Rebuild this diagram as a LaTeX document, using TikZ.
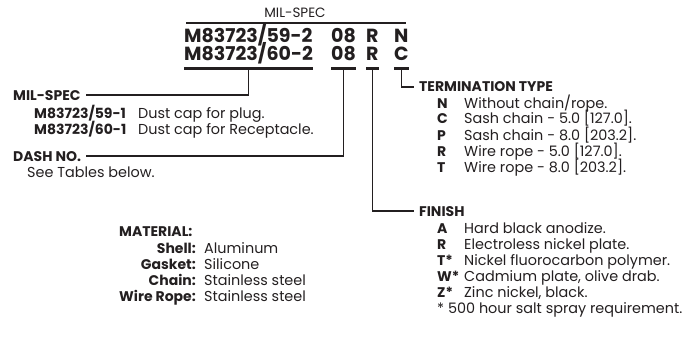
\documentclass[tikz,border=0pt]{standalone}
\usepackage{fontspec}
\setmainfont{Poppins}
\usetikzlibrary{calc}
\definecolor{ink}{HTML}{231F20}
\begin{document}
\begin{tikzpicture}[x=1pt,y=-1pt,
  every node/.style={inner sep=0pt, text=ink},
  body/.style={anchor=base west, font=\fontsize{14.4}{16}\selectfont},
  keyb/.style={anchor=base west, font=\fontsize{14}{16}\selectfont\bfseries},
  keyr/.style={anchor=base east, font=\fontsize{14}{16}\selectfont\bfseries},
  code/.style={anchor=base west, font=\fontsize{19}{21}\selectfont\bfseries},
  small/.style={anchor=base, font=\fontsize{13.5}{15}\selectfont},
  conn/.style={draw=ink, line width=1.3pt},
  ul/.style={draw=ink, line width=3pt}]
\useasboundingbox (0,0) rectangle (691,337);
% header
\node[small] (hdr) at (295,18) {MIL-SPEC};
\coordinate (hl) at (186,23);
\coordinate (hr) at (406,23);
\draw[conn] (hl) -- (hr);
% code rows
\node[code] (a1) at (184,43) {M83723/59-2};
\node[code] (a2) at (331,43) {08};
\node[code] (a3) at (366,43) {R};
\node[code] (a4) at (394,43) {N};
\node[code] (b1) at (184,61) {M83723/60-2};
\node[code] (b2) at (331,61) {08};
\node[code] (b3) at (366,61) {R};
\node[code] (b4) at (394,61) {C};
\foreach \n in {b1,b2,b3,b4}{
  \draw[ul] ($(\n.base west)+(0,8)$) -- ($(\n.base east)+(0,8)$);
  \coordinate (\n u) at ($(\n.base)+(0,8)$);
}
% MIL-SPEC section
\node[keyb] (mil) at (13,100) {MIL-SPEC};
\node[keyb] (m1k) at (34,118) {M83723/59-1};
\node[body] (m1d) at (138,118) {Dust cap for plug.};
\node[keyb] (m2k) at (34,134) {M83723/60-1};
\node[body] (m2d) at (138,134) {Dust cap for Receptacle.};
\coordinate (milp) at ($(mil.base east)+(5,-5)$);
\draw[conn] (b1u) |- (milp);
% DASH NO.
\node[keyb] (dash) at (13,161) {DASH NO.};
\node[body] (dashd) at (27,177) {See Tables below.};
\coordinate (dashp) at ($(dash.base east)+(5,-5)$);
\draw[conn] (b2u) |- (dashp);
% TERMINATION TYPE
\node[keyb] (term) at (419,92) {TERMINATION TYPE};
\coordinate (termp) at ($(term.base west)+(-5,-5)$);
\draw[conn] (b4u) |- (termp);
\node[keyb] (t1k) at (437,108) {N};
\node[body] (t1d) at (464,108) {Without chain/rope.};
\node[keyb] (t2k) at (437,124) {C};
\node[body] (t2d) at (464,124) {Sash chain - 5.0 [127.0].};
\node[keyb] (t3k) at (437,140) {P};
\node[body] (t3d) at (464,140) {Sash chain - 8.0 [203.2].};
\node[keyb] (t4k) at (437,156) {R};
\node[body] (t4d) at (464,156) {Wire rope - 5.0 [127.0].};
\node[keyb] (t5k) at (437,172) {T};
\node[body] (t5d) at (464,172) {Wire rope - 8.0 [203.2].};
% FINISH
\node[keyb] (fin) at (419,216) {FINISH};
\coordinate (finp) at ($(fin.base west)+(-5,-5)$);
\draw[conn] (b3u) |- (finp);
\node[keyb] (f1k) at (437,233) {A};
\node[body] (f1d) at (464,233) {Hard black anodize.};
\node[keyb] (f2k) at (437,249) {R};
\node[body] (f2d) at (464,249) {Electroless nickel plate.};
\node[keyb] (f3k) at (437,265) {T*};
\node[body] (f3d) at (464,265) {Nickel fluorocarbon polymer.};
\node[keyb] (f4k) at (437,281) {W*};
\node[body] (f4d) at (464,281) {Cadmium plate, olive drab.};
\node[keyb] (f5k) at (437,297) {Z*};
\node[body] (f5d) at (464,297) {Zinc nickel, black.};
\node[body] (fnote) at (437,313) {* 500 hour salt spray requirement.};
% MATERIAL
\node[keyb] (mat) at (119,236) {MATERIAL:};
\node[keyr] (s1k) at (196,253) {Shell:};
\node[body] (s1d) at (204,253) {Aluminum};
\node[keyr] (s2k) at (196,269) {Gasket:};
\node[body] (s2d) at (204,269) {Silicone};
\node[keyr] (s3k) at (196,285) {Chain:};
\node[body] (s3d) at (204,285) {Stainless steel};
\node[keyr] (s4k) at (196,301) {Wire Rope:};
\node[body] (s4d) at (204,301) {Stainless steel};
\end{tikzpicture}
\end{document}
